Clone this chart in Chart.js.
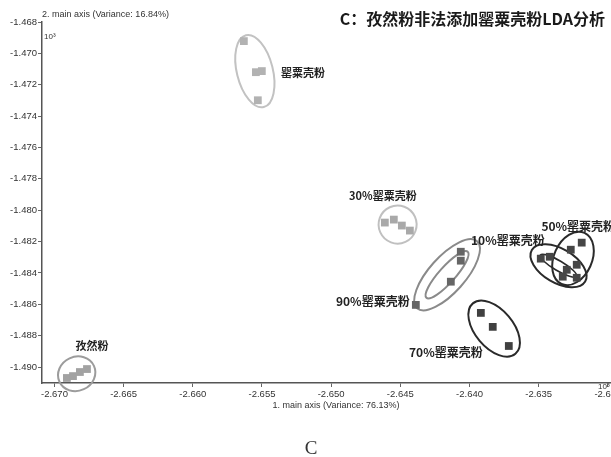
<!DOCTYPE html>
<html>
<head>
<meta charset="utf-8">
<script src="https://cdn.jsdelivr.net/npm/chart.js@4/dist/chart.umd.min.js"></script>
<style>
  html, body { margin: 0; padding: 0; background: #fff; overflow: hidden; width: 611px; height: 457px; }
  #stage { position: relative; width: 611px; height: 457px; overflow: hidden; }
  #c { position: absolute; left: 0; top: 0; }
  .txt { position: absolute; white-space: nowrap; color: #222; }
  #title { right: 6px; top: 8px; font: bold 16px "Noto Sans CJK SC", sans-serif; line-height: 20px; color: #1a1a1a; }
  #ytitle { left: 42px; top: 8px; font: 9px "Liberation Sans", Arial, sans-serif; line-height: 12px; color: #333; }
  #yexp { left: 44px; top: 32px; font: 8px "Liberation Sans", Arial, sans-serif; color: #333; }
  #xexp { left: 598px; top: 382px; font: 8px "Liberation Sans", Arial, sans-serif; color: #333; }
  #caption { left: 0; width: 622px; text-align: center; top: 437px; font: 19px "Liberation Serif", "DejaVu Serif", serif; color: #333; }
</style>
</head>
<body>
<div id="stage">
  <canvas id="c" width="640" height="457"></canvas>
  <div class="txt" id="title">C：孜然粉非法添加罂粟壳粉LDA分析</div>
  <div class="txt" id="ytitle">2. main axis (Variance: 16.84%)</div>
  <div class="txt" id="yexp">10³</div>
  <div class="txt" id="xexp">10³</div>
  <div class="txt" id="caption">C</div>
</div>
<script>
// LDA scores (×10³) for each sample group: 1st and 2nd main axis
const groupNames = ['孜然粉', '罂粟壳粉', '30%罂粟壳粉', '90%罂粟壳粉', '70%罂粟壳粉', '10%罂粟壳粉', '50%罂粟壳粉'];

const cuminAxis1 = [-2.66910, -2.66866, -2.66816, -2.66765];
const cuminAxis2 = [-1.49070, -1.49058, -1.49032, -1.49013];

const poppyAxis1 = [-2.65631, -2.65544, -2.65501, -2.65530];
const poppyAxis2 = [-1.46922, -1.47120, -1.47113, -1.47299];

const mix30Axis1 = [-2.64612, -2.64547, -2.64489, -2.64431];
const mix30Axis2 = [-1.48079, -1.48060, -1.48098, -1.48130];

const mix90Axis1 = [-2.64388, -2.64135, -2.64063, -2.64063];
const mix90Axis2 = [-1.48604, -1.48456, -1.48265, -1.48322];

const mix70Axis1 = [-2.63918, -2.63832, -2.63716];
const mix70Axis2 = [-1.48655, -1.48744, -1.48866];

const mix10Axis1 = [-2.63485, -2.63420, -2.63297, -2.63225];
const mix10Axis2 = [-1.48309, -1.48297, -1.48380, -1.48431];

const mix50Axis1 = [-2.63189, -2.63268, -2.63326, -2.63225];
const mix50Axis2 = [-1.48207, -1.48252, -1.48424, -1.48348];

const xTickValues = [-2.670, -2.665, -2.660, -2.655, -2.650, -2.645, -2.640, -2.635, -2.630];
const yTickValues = [-1.468, -1.470, -1.472, -1.474, -1.476, -1.478, -1.480, -1.482, -1.484, -1.486, -1.488, -1.490];

// ---- presentation ----
const groupAxis1 = [cuminAxis1, poppyAxis1, mix30Axis1, mix90Axis1, mix70Axis1, mix10Axis1, mix50Axis1];
const groupAxis2 = [cuminAxis2, poppyAxis2, mix30Axis2, mix90Axis2, mix70Axis2, mix10Axis2, mix50Axis2];
const pointColors = ['#a2a2a2', '#b2b2b2', '#a9a9a9', '#666666', '#404040', '#464646', '#464646'];

// confidence outlines around each group (pixel radii, centred on group mean, aligned to its main spread)
const outlineStyles = [
  { group: 0, rx: 19, ry: 17, color: '#9c9c9c', width: 2 },
  { group: 1, rx: 37, ry: 18, color: '#c2c2c2', width: 2 },
  { group: 2, rx: 19, ry: 19, color: '#c0c0c0', width: 2 },
  { group: 3, rx: 45, ry: 18, color: '#8a8a8a', width: 2 },
  { group: 3, rx: 31, ry: 8,  color: '#8a8a8a', width: 2 },
  { group: 4, rx: 33, ry: 19, color: '#2a2a2a', width: 2 },
  { group: 5, rx: 31, ry: 17, color: '#2a2a2a', width: 2 },
  { group: 5, rx: 21, ry: 5,  color: '#2a2a2a', width: 1.6 },
  { group: 6, rx: 28, ry: 19, color: '#2a2a2a', width: 2 }
];

// where each group name is written (axis units)
const labelAnchors = [
  { group: 0, x: -2.66729, y: -1.48866, size: 11 },
  { group: 1, x: -2.65204, y: -1.47126, size: 11 },
  { group: 2, x: -2.64626, y: -1.47906, size: 11 },
  { group: 3, x: -2.64699, y: -1.48584, size: 12 },
  { group: 4, x: -2.64171, y: -1.48904, size: 12 },
  { group: 5, x: -2.63723, y: -1.48194, size: 12 },
  { group: 6, x: -2.63214, y: -1.48105, size: 12 }
];

function groupPixels(chart, g) {
  const { x, y } = chart.scales;
  return chart.data.datasets[g].data.map(p => [x.getPixelForValue(p.x), y.getPixelForValue(p.y)]);
}

const groupOutlines = {
  id: 'groupOutlines',
  beforeDatasetsDraw(chart) {
    const ctx = chart.ctx;
    ctx.save();
    outlineStyles.forEach(s => {
      const pts = groupPixels(chart, s.group);
      const n = pts.length;
      const mx = pts.reduce((a, p) => a + p[0], 0) / n;
      const my = pts.reduce((a, p) => a + p[1], 0) / n;
      let sxx = 0, syy = 0, sxy = 0;
      pts.forEach(p => {
        const dx = p[0] - mx, dy = p[1] - my;
        sxx += dx * dx; syy += dy * dy; sxy += dx * dy;
      });
      const angle = 0.5 * Math.atan2(2 * sxy, sxx - syy);
      ctx.beginPath();
      ctx.ellipse(mx, my, s.rx, s.ry, angle, 0, Math.PI * 2);
      ctx.strokeStyle = s.color;
      ctx.lineWidth = s.width;
      ctx.stroke();
    });
    ctx.restore();
  },
  afterDatasetsDraw(chart) {
    const ctx = chart.ctx;
    const { x, y } = chart.scales;
    ctx.save();
    ctx.fillStyle = '#222';
    ctx.textAlign = 'center';
    ctx.textBaseline = 'middle';
    labelAnchors.forEach(a => {
      ctx.font = 'bold ' + a.size + 'px "Noto Sans CJK SC", sans-serif';
      ctx.fillText(groupNames[a.group], x.getPixelForValue(a.x), y.getPixelForValue(a.y));
    });
    ctx.restore();
  }
};

const tickFont = { family: '"Liberation Sans", Arial, sans-serif', size: 9.5 };

new Chart(document.getElementById('c'), {
  type: 'scatter',
  data: {
    datasets: groupNames.map((name, g) => ({
      label: name,
      data: groupAxis1[g].map((v, i) => ({ x: v, y: groupAxis2[g][i] })),
      pointStyle: 'rect',
      pointRadius: 5.5,
      borderWidth: 0,
      backgroundColor: pointColors[g],
      borderColor: pointColors[g]
    }))
  },
  options: {
    responsive: false,
    devicePixelRatio: 1,
    animation: false,
    layout: { padding: { left: 0, right: 10, top: 22, bottom: 0 } },
    plugins: { legend: { display: false }, tooltip: { enabled: false } },
    scales: {
      x: {
        type: 'linear',
        min: -2.6709,
        max: -2.6284,
        afterBuildTicks: s => { s.ticks = xTickValues.map(v => ({ value: v })); },
        afterFit: s => { s.height = 74; },
        ticks: { callback: v => v.toFixed(3), font: tickFont, color: '#333', padding: 2, maxRotation: 0, autoSkip: false },
        grid: { drawOnChartArea: false, tickLength: 4, color: '#666', lineWidth: 1 },
        border: { color: '#555', width: 1.5 },
        title: {
          display: true,
          text: '1. main axis (Variance: 76.13%)',
          font: { family: '"Liberation Sans", Arial, sans-serif', size: 9 },
          color: '#333',
          padding: { top: 0, bottom: 46 }
        }
      },
      y: {
        type: 'linear',
        min: -1.49102,
        max: -1.468,
        afterBuildTicks: s => { s.ticks = yTickValues.map(v => ({ value: v })); },
        afterFit: s => { s.width = 42; },
        ticks: { callback: v => v.toFixed(3), font: tickFont, color: '#333', padding: 1, autoSkip: false },
        grid: { drawOnChartArea: false, tickLength: 4, color: '#666', lineWidth: 1 },
        border: { color: '#555', width: 1.5 }
      }
    }
  },
  plugins: [groupOutlines]
});
</script>
</body>
</html>
